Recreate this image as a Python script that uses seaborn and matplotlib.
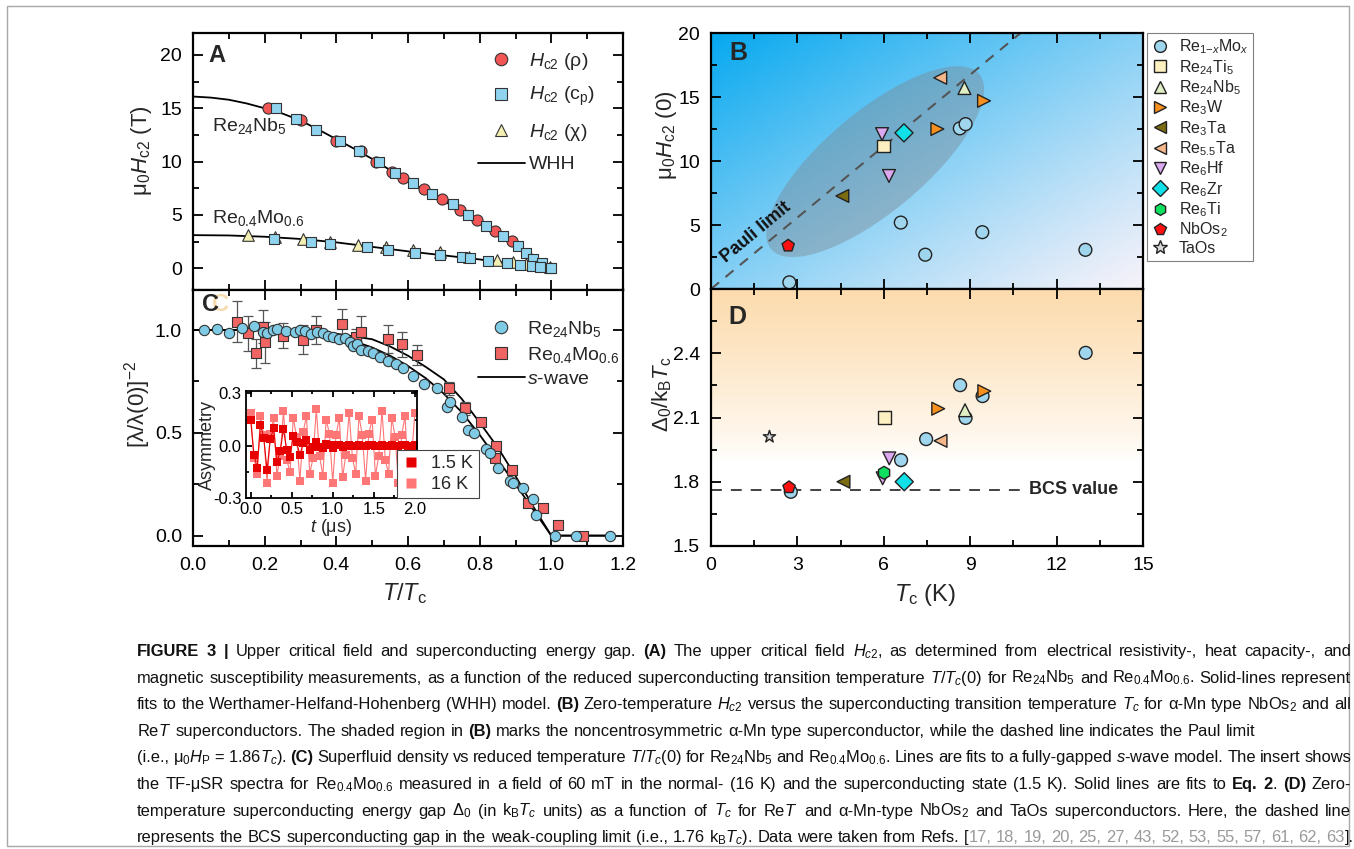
import matplotlib
matplotlib.use("Agg")
import numpy as np
import pandas as pd
import matplotlib.pyplot as plt
import seaborn as sns
from matplotlib.lines import Line2D
from matplotlib.patches import Ellipse, Rectangle
from matplotlib.ticker import MultipleLocator, FormatStrFormatter
from matplotlib.transforms import ScaledTranslation

# ---------------- panel A: upper critical field vs T/Tc ----------------
nb_rho_t = [0.21, 0.30, 0.40, 0.47, 0.51, 0.555, 0.587, 0.645, 0.694, 0.745, 0.793, 0.843, 0.889]
nb_rho_h = [15.0, 13.9, 11.95, 11.0, 10.0, 9.05, 8.5, 7.4, 6.5, 5.5, 4.5, 3.5, 2.55]
nb_cp_t = [0.231, 0.287, 0.343, 0.41, 0.463, 0.52, 0.564, 0.615, 0.667, 0.725, 0.768,
           0.818, 0.865, 0.908, 0.929, 0.95, 0.973, 0.996]
nb_cp_h = [15.0, 13.95, 12.95, 11.95, 10.95, 10.0, 8.97, 8.03, 7.0, 6.03, 5.03,
           3.97, 3.05, 2.06, 1.46, 0.9, 0.5, 0.0]
mo_chi_t = [0.154, 0.229, 0.306, 0.382, 0.461, 0.539, 0.615, 0.689, 0.77, 0.847, 0.894, 0.93, 0.995]
mo_chi_h = [3.1, 2.95, 2.72, 2.5, 2.22, 1.95, 1.7, 1.5, 1.05, 0.74, 0.55, 0.35, 0.15]
mo_cp_t = [0.227, 0.329, 0.382, 0.486, 0.545, 0.62, 0.689, 0.75, 0.773, 0.824, 0.875,
           0.913, 0.945, 0.968, 0.998]
mo_cp_h = [2.75, 2.5, 2.28, 1.97, 1.72, 1.47, 1.28, 1.03, 0.94, 0.72, 0.53, 0.31, 0.25, 0.1, 0.0]
whh_nb_t = [0.0, 0.05, 0.1, 0.15, 0.2, 0.25, 0.3, 0.35, 0.4, 0.45, 0.5, 0.55, 0.6, 0.65,
            0.7, 0.75, 0.8, 0.85, 0.9, 0.95, 1.0]
whh_nb_h = [16.1, 16.0, 15.8, 15.45, 15.0, 14.5, 13.85, 13.0, 12.1, 11.2, 10.25, 9.2, 8.2,
            7.25, 6.3, 5.35, 4.35, 3.35, 2.3, 1.2, 0.0]
whh_mo_t = [0.0, 0.1, 0.2, 0.3, 0.4, 0.5, 0.6, 0.7, 0.8, 0.9, 1.0]
whh_mo_h = [3.1, 3.07, 2.95, 2.74, 2.42, 2.0, 1.58, 1.2, 0.82, 0.41, 0.0]

# ---------------- panel C: superfluid density ----------------
sf_nb_t = [0.031, 0.066, 0.10, 0.136, 0.17, 0.194, 0.207, 0.222, 0.235, 0.26, 0.285, 0.299,
           0.313, 0.328, 0.345, 0.364, 0.378, 0.392, 0.408, 0.424, 0.438, 0.447, 0.457, 0.47,
           0.489, 0.503, 0.522, 0.545, 0.567, 0.587, 0.613, 0.645, 0.682, 0.708, 0.716, 0.75,
           0.768, 0.784, 0.818, 0.828, 0.852, 0.885, 0.892, 0.922, 0.95, 0.957, 1.01, 1.07, 1.165]
sf_nb_y = [1.0, 1.005, 0.985, 1.008, 1.018, 0.99, 0.985, 1.0, 1.003, 0.997, 0.99, 1.0,
           0.995, 0.98, 0.99, 0.987, 0.972, 0.966, 0.955, 0.96, 0.94, 0.92, 0.93, 0.905,
           0.9, 0.886, 0.867, 0.849, 0.833, 0.814, 0.776, 0.735, 0.717, 0.627, 0.651, 0.578,
           0.512, 0.5, 0.42, 0.403, 0.328, 0.264, 0.255, 0.233, 0.176, 0.1, 0.0, 0.0, 0.0]
sf_mo_t = [0.122, 0.154, 0.176, 0.194, 0.201, 0.252, 0.306, 0.343, 0.415, 0.455, 0.47, 0.545,
           0.582, 0.626, 0.715, 0.759, 0.804, 0.846, 0.843, 0.889, 0.936, 0.976, 1.018, 1.089]
sf_mo_y = [1.04, 0.984, 0.886, 1.016, 0.94, 0.973, 0.952, 1.0, 1.028, 0.967, 0.991, 0.956,
           0.93, 0.878, 0.716, 0.619, 0.551, 0.436, 0.376, 0.319, 0.157, 0.136, 0.054, 0.0]
sf_mo_err = [0.10, 0.085, 0.07, 0.08, 0.1, 0.06, 0.07, 0.07, 0.075, 0.04, 0.075, 0.07,
             0.06, 0.05, 0.03, 0.03, 0.02, 0.02, 0.02, 0.02, 0.02, 0.02, 0.01, 0.01]
swave_nb_t = [0.0, 0.1, 0.2, 0.3, 0.4, 0.45, 0.5, 0.55, 0.6, 0.65, 0.7, 0.75, 0.8, 0.85,
              0.9, 0.95, 1.0, 1.17]
swave_nb_y = [1.0, 1.0, 0.998, 0.99, 0.967, 0.945, 0.915, 0.875, 0.825, 0.765, 0.69, 0.6,
              0.49, 0.37, 0.25, 0.125, 0.0, 0.0]
swave_mo_t = [0.0, 0.1, 0.2, 0.3, 0.4, 0.5, 0.55, 0.6, 0.65, 0.7, 0.75, 0.8, 0.85, 0.9,
              0.95, 1.0, 1.17]
swave_mo_y = [1.0, 1.0, 1.0, 0.995, 0.982, 0.955, 0.92, 0.875, 0.82, 0.76, 0.665, 0.55,
              0.43, 0.29, 0.14, 0.0, 0.0]

# inset: TF-muSR asymmetry
musr_t = [0.00, 0.04, 0.08, 0.12, 0.16, 0.20, 0.24, 0.28, 0.32, 0.36, 0.40, 0.44, 0.48,
          0.52, 0.56, 0.60, 0.64, 0.68, 0.72, 0.76, 0.80, 0.84, 0.88, 0.92, 0.96, 1.00,
          1.04, 1.08, 1.12, 1.16, 1.20, 1.24, 1.28, 1.32, 1.36, 1.40, 1.44, 1.48, 1.52,
          1.56, 1.60, 1.64, 1.68, 1.72, 1.76, 1.80, 1.84, 1.88, 1.92, 1.96, 2.00]
asym_16k = [0.19, -0.07, -0.16, 0.17, 0.06, -0.21, 0.07, 0.16, -0.17, -0.06,
            0.20, -0.08, -0.15, 0.16, 0.05, -0.20, 0.08, 0.17, -0.16, -0.07,
            0.21, -0.06, -0.17, 0.15, 0.07, -0.21, 0.06, 0.16, -0.18, -0.05,
            0.19, -0.07, -0.16, 0.17, 0.06, -0.20, 0.07, 0.15, -0.17, -0.06,
            0.20, -0.08, -0.16, 0.16, 0.05, -0.21, 0.06, 0.17, -0.16, -0.07, 0.19]
asym_15k = [0.15, -0.05, -0.125, 0.12, 0.045, -0.14, 0.04, 0.10, -0.095, -0.03,
            0.095, -0.026, -0.062, 0.055, 0.02, -0.052, 0.014, 0.031, -0.026, -0.008,
            0.022, -0.005, -0.014, 0.012, 0.004, -0.011, 0.003, 0.007, -0.006, -0.002,
            0.006, -0.002, -0.004, 0.004, 0.001, -0.004, 0.002, 0.004, -0.003, -0.001,
            0.003, -0.002, -0.003, 0.003, 0.001, -0.003, 0.002, 0.003, -0.002, -0.001, 0.002]

# ---------------- panels B and D ----------------
b_compound = ["ReMo"] * 7 + ["Re24Ti5", "Re24Nb5", "Re3W", "Re3W", "Re3Ta", "Re5.5Ta",
                             "Re6Hf", "Re6Hf", "Re6Zr", "NbOs2"]
b_tc = [2.72, 6.59, 7.44, 8.64, 8.84, 9.42, 13.0, 6.0, 8.8, 7.86, 9.48, 4.56, 7.96,
        5.94, 6.18, 6.7, 2.68]
b_hc2 = [0.52, 5.19, 2.68, 12.55, 12.88, 4.44, 3.06, 11.17, 15.7, 12.5, 14.7, 7.27, 16.5,
         12.1, 8.83, 12.2, 3.38]
d_compound = ["ReMo"] * 7 + ["Re24Ti5", "Re24Nb5", "Re3W", "Re3W", "Re3Ta", "Re5.5Ta",
                             "Re6Hf", "Re6Hf", "Re6Zr", "Re6Ti", "NbOs2", "TaOs"]
d_tc = [2.77, 6.6, 7.47, 8.65, 8.84, 9.43, 13.01, 6.02, 8.82, 7.89, 9.49, 4.6, 7.97,
        6.19, 5.96, 6.71, 6.01, 2.71, 2.03]
d_gap = [1.753, 1.901, 1.999, 2.251, 2.098, 2.2, 2.402, 2.1, 2.134, 2.141, 2.223, 1.8,
         1.991, 1.909, 1.816, 1.8, 1.842, 1.774, 2.01]
pauli_tc = [0.0, 10.75]
pauli_h = [0.0, 20.0]
bcs_tc = [0.0, 10.9]
bcs_gap = [1.76, 1.76]
d_yticks = [1.5, 1.8, 2.1, 2.4]

order = ["ReMo", "Re24Ti5", "Re24Nb5", "Re3W", "Re3Ta", "Re5.5Ta", "Re6Hf", "Re6Zr",
         "Re6Ti", "NbOs2", "TaOs"]
names = {"ReMo": "Re$_{1\\mathrm{-}x}$Mo$_x$", "Re24Ti5": "Re$_{24}$Ti$_5$",
         "Re24Nb5": "Re$_{24}$Nb$_5$", "Re3W": "Re$_3$W", "Re3Ta": "Re$_3$Ta",
         "Re5.5Ta": "Re$_{5.5}$Ta", "Re6Hf": "Re$_6$Hf", "Re6Zr": "Re$_6$Zr",
         "Re6Ti": "Re$_6$Ti", "NbOs2": "NbOs$_2$", "TaOs": "TaOs"}
colors = {"ReMo": "#9fd6ee", "Re24Ti5": "#fcefc0", "Re24Nb5": "#e0eec4", "Re3W": "#f7901e",
          "Re3Ta": "#7b6b12", "Re5.5Ta": "#f5b68a", "Re6Hf": "#dca8f0", "Re6Zr": "#10e0e8",
          "Re6Ti": "#10e060", "NbOs2": "#ff1010", "TaOs": "#d8d8d8"}
markers = {"ReMo": "o", "Re24Ti5": "s", "Re24Nb5": "^", "Re3W": ">", "Re3Ta": "<",
           "Re5.5Ta": "<", "Re6Hf": "v", "Re6Zr": "D", "Re6Ti": "h", "NbOs2": "p", "TaOs": "*"}

sns.set_style("ticks")
plt.rcParams["font.family"] = ["Liberation Sans", "DejaVu Sans"]
plt.rcParams["mathtext.fontset"] = "custom"
plt.rcParams["mathtext.rm"] = "Liberation Sans"
plt.rcParams["mathtext.it"] = "Liberation Sans:italic"
plt.rcParams["mathtext.bf"] = "Liberation Sans:bold"
plt.rcParams["axes.unicode_minus"] = False

W, H = 1354, 849
fig = plt.figure(figsize=(W / 100, H / 100), dpi=100)


def px_rect(l, t, r, b):
    return [l / W, 1 - b / H, (r - l) / W, (b - t) / H]


def style_axes(ax, xmaj, xmin, ymaj, ymin, size=14, lw=1.6):
    ax.xaxis.set_major_locator(MultipleLocator(xmaj))
    ax.xaxis.set_minor_locator(MultipleLocator(xmin))
    ax.yaxis.set_major_locator(MultipleLocator(ymaj))
    ax.yaxis.set_minor_locator(MultipleLocator(ymin))
    ax.tick_params(which="both", direction="in", top=True, right=True, width=1.3,
                   labelsize=size, pad=8, colors="black")
    ax.tick_params(which="major", length=7)
    ax.tick_params(which="minor", length=4)
    for s in ax.spines.values():
        s.set_linewidth(lw)
        s.set_color("black")


ax_a = fig.add_axes(px_rect(193, 33, 623, 289.5))
ax_c = fig.add_axes(px_rect(193, 289.5, 623, 545.5))
ax_b = fig.add_axes(px_rect(711, 33, 1143, 289))
ax_d = fig.add_axes(px_rect(711, 289, 1143, 546))

# ---- A ----
sns.lineplot(x=whh_nb_t, y=whh_nb_h, ax=ax_a, color="black", lw=1.3, sort=False, estimator=None)
sns.lineplot(x=whh_mo_t, y=whh_mo_h, ax=ax_a, color="black", lw=1.3, sort=False, estimator=None)
sns.scatterplot(x=mo_chi_t, y=mo_chi_h, ax=ax_a, marker="^", s=70, color="#f4efb2",
                edgecolor="#333333", linewidth=0.8, zorder=3)
sns.scatterplot(x=nb_rho_t, y=nb_rho_h, ax=ax_a, marker="o", s=64, color="#f25555",
                edgecolor="#333333", linewidth=0.8, zorder=3)
sns.scatterplot(x=nb_cp_t, y=nb_cp_h, ax=ax_a, marker="s", s=58, color="#8fd3ef",
                edgecolor="#333333", linewidth=0.8, zorder=4)
sns.scatterplot(x=mo_cp_t, y=mo_cp_h, ax=ax_a, marker="s", s=58, color="#8fd3ef",
                edgecolor="#333333", linewidth=0.8, zorder=4)
ax_a.set_xlim(0, 1.2)
ax_a.set_ylim(-2, 22.06)
style_axes(ax_a, 0.2, 0.1, 5, 2.5)
ax_a.yaxis.set_major_formatter(FormatStrFormatter("%d"))
ax_a.tick_params(labelbottom=False)
ax_a.set_ylabel("μ$_0$$H_\\mathrm{c2}$ (T)", fontsize=16)
ax_a.yaxis.set_label_coords(-0.09, 0.54)
ax_a.text(0.035, 0.914, "A", transform=ax_a.transAxes, fontsize=17, fontweight="bold", va="center")
ax_a.text(0.052, 13.3, "Re$_{24}$Nb$_5$", fontsize=14, va="center")
ax_a.text(0.052, 4.7, "Re$_{0.4}$Mo$_{0.6}$", fontsize=14, va="center")
a_handles = [
    Line2D([], [], ls="", marker="o", ms=9, mfc="#f25555", mec="#333333", mew=0.8),
    Line2D([], [], ls="", marker="s", ms=8.5, mfc="#8fd3ef", mec="#333333", mew=0.8),
    Line2D([], [], ls="", marker="^", ms=9, mfc="#f4efb2", mec="#333333", mew=0.8),
    Line2D([], [], color="black", lw=1.3),
]
a_labels = ["$H_\\mathrm{c2}$ (ρ)", "$H_\\mathrm{c2}$ (c$_\\mathrm{p}$)", "$H_\\mathrm{c2}$ (χ)", "WHH"]
ax_a.legend(a_handles, a_labels, loc="upper left", bbox_to_anchor=(0.663, 0.93), frameon=False,
            fontsize=14, handlelength=2.4, handletextpad=0.2, labelspacing=0.68,
            borderpad=0, borderaxespad=0)

# ---- C ----
sns.lineplot(x=swave_nb_t, y=swave_nb_y, ax=ax_c, color="black", lw=1.3, sort=False, estimator=None)
sns.lineplot(x=swave_mo_t, y=swave_mo_y, ax=ax_c, color="black", lw=1.3, sort=False, estimator=None)
ax_c.errorbar(sf_mo_t, sf_mo_y, yerr=sf_mo_err, fmt="none", ecolor="#555555",
              elinewidth=0.9, capsize=3.5, capthick=0.9, zorder=2)
sns.scatterplot(x=sf_mo_t, y=sf_mo_y, ax=ax_c, marker="s", s=48, color="#f06464",
                edgecolor="#333333", linewidth=0.8, zorder=3)
sns.scatterplot(x=sf_nb_t, y=sf_nb_y, ax=ax_c, marker="o", s=55, color="#7fcbe6",
                edgecolor="#333333", linewidth=0.8, zorder=4)
ax_c.set_xlim(0, 1.2)
ax_c.set_ylim(-0.048, 1.197)
style_axes(ax_c, 0.2, 0.1, 0.5, 0.25)
ax_c.yaxis.set_major_formatter(FormatStrFormatter("%.1f"))
ax_c.xaxis.set_major_formatter(FormatStrFormatter("%.1f"))
ax_c.set_ylabel("[λ/λ(0)]$^{-2}$", fontsize=16)
ax_c.yaxis.set_label_coords(-0.094, 0.55)
ax_c.set_xlabel("$T/T_\\mathrm{c}$", fontsize=17)
ax_c.xaxis.set_label_coords(0.493, -0.14)
ax_c.text(0.045, 0.943, "C", transform=ax_c.transAxes, fontsize=17, fontweight="bold",
          va="center", color="#f6dcae", zorder=1)
ax_c.text(0.02, 0.943, "C", transform=ax_c.transAxes, fontsize=17, fontweight="bold", va="center")
c_handles = [
    Line2D([], [], ls="", marker="o", ms=9, mfc="#7fcbe6", mec="#333333", mew=0.8),
    Line2D([], [], ls="", marker="s", ms=8.5, mfc="#f06464", mec="#333333", mew=0.8),
    Line2D([], [], color="black", lw=1.3),
]
c_labels = ["Re$_{24}$Nb$_5$", "Re$_{0.4}$Mo$_{0.6}$", "$s$-wave"]
ax_c.legend(c_handles, c_labels, loc="upper left", bbox_to_anchor=(0.663, 0.885), frameon=False,
            fontsize=14, handlelength=2.4, handletextpad=0.1, labelspacing=0.3,
            borderpad=0, borderaxespad=0)

# inset
ax_in = fig.add_axes(px_rect(245.7, 391, 417.3, 498.3))
sns.lineplot(x=musr_t, y=asym_16k, ax=ax_in, color="#ff7676", lw=0.8, marker="s",
             markersize=5.5, markeredgewidth=0, sort=False, estimator=None)
sns.lineplot(x=musr_t, y=asym_15k, ax=ax_in, color="#e60000", lw=0.8, marker="s",
             markersize=5.5, markeredgewidth=0, sort=False, estimator=None)
ax_in.set_xlim(-0.06, 2.03)
ax_in.set_ylim(-0.3, 0.313)
style_axes(ax_in, 0.5, 0.25, 0.3, 0.15, size=12, lw=1.3)
ax_in.tick_params(which="major", length=4, pad=3)
ax_in.tick_params(which="minor", length=2)
ax_in.xaxis.set_major_formatter(FormatStrFormatter("%.1f"))
ax_in.yaxis.set_major_formatter(FormatStrFormatter("%.1f"))
ax_in.set_xlabel("$t$ (μs)", fontsize=13, labelpad=0)
ax_in.set_ylabel("Asymmetry", fontsize=13, labelpad=-2)
in_handles = [Line2D([], [], ls="", marker="s", ms=7, mfc="#e60000", mec="none"),
              Line2D([], [], ls="", marker="s", ms=7, mfc="#ff7676", mec="none")]
leg_in = fig.legend(in_handles, ["1.5 K", "16 K"], loc="upper left",
                    bbox_to_anchor=(397 / W, 1 - 450 / H), frameon=True, fancybox=False,
                    edgecolor="#444444", framealpha=1, fontsize=13, handlelength=1.0,
                    handletextpad=0.6, labelspacing=0.2, borderpad=0.3, borderaxespad=0)
leg_in.get_frame().set_linewidth(0.8)

# ---- B ----
grad_u, grad_v = np.meshgrid(np.linspace(0, 1, 300), np.linspace(1, 0, 300))
f_b = np.clip(((1 - grad_u) + grad_v) / 2, 0, 1) ** 1.1
blue = np.array([0.02, 0.66, 0.94])
pale = np.array([0.97, 0.95, 0.98])
img_b = pale[None, None, :] * (1 - f_b[..., None]) + blue[None, None, :] * f_b[..., None]
ax_b.imshow(img_b, extent=[0, 1, 0, 1], transform=ax_b.transAxes, aspect="auto",
            zorder=0, interpolation="bicubic")
ell = Ellipse((0, 0), 2.72, 1.0, angle=40, facecolor="#7c8690", alpha=0.42, edgecolor="none",
              transform=fig.dpi_scale_trans + ScaledTranslation(5.7, 9.95, ax_b.transData),
              zorder=1)
ax_b.add_patch(ell)
sns.lineplot(x=pauli_tc, y=pauli_h, ax=ax_b, color="#555555", lw=1.5, dashes=(5, 4),
             sort=False, estimator=None, zorder=2)
b_df = pd.DataFrame({"compound": b_compound, "Tc": b_tc, "Hc2": b_hc2})
sns.scatterplot(data=b_df, x="Tc", y="Hc2", hue="compound", style="compound", palette=colors,
                markers=markers, s=85, edgecolor="#222222", linewidth=1.0, legend=False,
                ax=ax_b, zorder=3)
ax_b.text(1.55, 4.4, "Pauli limit", rotation=39.6, rotation_mode="anchor", fontsize=13,
          fontweight="bold", ha="center", va="center", color="#111111")
ax_b.set_xlim(0, 15)
ax_b.set_ylim(0, 20)
style_axes(ax_b, 3, 1.5, 5, 2.5)
ax_b.yaxis.set_major_formatter(FormatStrFormatter("%d"))
ax_b.tick_params(labelbottom=False)
ax_b.set_xlabel("")
ax_b.set_ylabel("μ$_0$$H_\\mathrm{c2}$ (0)", fontsize=16)
ax_b.yaxis.set_label_coords(-0.075, 0.6)
ax_b.text(0.042, 0.92, "B", transform=ax_b.transAxes, fontsize=18, fontweight="bold", va="center")

# ---- D ----
f_d = np.clip((grad_v - 0.33) / 0.67, 0, 1) ** 0.8
beige = np.array([0.99, 0.86, 0.68])
white = np.array([1.0, 1.0, 1.0])
img_d = white[None, None, :] * (1 - f_d[..., None]) + beige[None, None, :] * f_d[..., None]
ax_d.imshow(img_d, extent=[0, 1, 0, 1], transform=ax_d.transAxes, aspect="auto",
            zorder=0, interpolation="bicubic")
sns.lineplot(x=bcs_tc, y=bcs_gap, ax=ax_d, color="#333333", lw=1.3, dashes=(6, 5),
             sort=False, estimator=None, zorder=2)
d_df = pd.DataFrame({"compound": d_compound, "Tc": d_tc, "gap": d_gap})
sns.scatterplot(data=d_df, x="Tc", y="gap", hue="compound", style="compound", palette=colors,
                markers=markers, s=85, edgecolor="#222222", linewidth=1.0, legend=False,
                ax=ax_d, zorder=3)
ax_d.text(11.05, 1.762, "BCS value", fontsize=13, fontweight="bold", va="center", ha="left")
ax_d.set_xlim(0, 15)
ax_d.set_ylim(1.5, 2.7)
style_axes(ax_d, 3, 1.5, 0.3, 0.15)
ax_d.set_yticks(d_yticks)
ax_d.yaxis.set_major_formatter(FormatStrFormatter("%.1f"))
ax_d.xaxis.set_major_formatter(FormatStrFormatter("%d"))
ax_d.set_xlabel("$T_\\mathrm{c}$ (K)", fontsize=17)
ax_d.xaxis.set_label_coords(0.495, -0.14)
ax_d.set_ylabel("Δ$_0$/k$_\\mathrm{B}$$T_\\mathrm{c}$", fontsize=16)
ax_d.yaxis.set_label_coords(-0.086, 0.59)
ax_d.text(0.04, 0.892, "D", transform=ax_d.transAxes, fontsize=18, fontweight="bold", va="center")

b_handles = [Line2D([], [], ls="", marker=markers[k], ms=8.5 if markers[k] != "*" else 10,
                    mfc=colors[k], mec="#222222", mew=1.0) for k in order]
leg_b = fig.legend(b_handles, [names[k] for k in order], loc="upper left",
                   bbox_to_anchor=(1147 / W, 1 - 33 / H), frameon=True, fancybox=False,
                   edgecolor="#808080", framealpha=1, fontsize=11.5, handlelength=1.0,
                   handletextpad=0.7, labelspacing=0.1, borderpad=0.3, borderaxespad=0)
leg_b.get_frame().set_linewidth(0.8)

# ---- caption ----
cap_lines = [
    ([("FIGURE 3 |", "b"), (" Upper critical field and superconducting energy gap. ", "n"), ("(A)", "b"),
      (" The upper critical field $H_{c2}$, as determined from electrical resistivity-, heat capacity-, and", "n")], True),
    ([("magnetic susceptibility measurements, as a function of the reduced superconducting transition "
       "temperature $T/T_c(0)$ for Re$_{24}$Nb$_5$ and Re$_{0.4}$Mo$_{0.6}$. Solid-lines represent", "n")], True),
    ([("fits to the Werthamer-Helfand-Hohenberg (WHH) model. ", "n"), ("(B)", "b"),
      (" Zero-temperature $H_{c2}$ versus the superconducting transition temperature $T_c$ for α-Mn type NbOs$_2$ and all", "n")], True),
    ([("Re$T$ superconductors. The shaded region in ", "n"), ("(B)", "b"),
      (" marks the noncentrosymmetric α-Mn type superconductor, while the dashed line indicates the Paul limit", "n")], False),
    ([("(i.e., μ$_0H_\\mathrm{P}$ = 1.86$T_c$). ", "n"), ("(C)", "b"),
      (" Superfluid density vs reduced temperature $T/T_c$(0) for Re$_{24}$Nb$_5$ and Re$_{0.4}$Mo$_{0.6}$. "
       "Lines are fits to a fully-gapped $s$-wave model. The insert shows", "n")], True),
    ([("the TF-μSR spectra for Re$_{0.4}$Mo$_{0.6}$ measured in a field of 60 mT in the normal- (16 K) and the "
       "superconducting state (1.5 K). Solid lines are fits to ", "n"), ("Eq. 2", "b"), (". ", "n"),
      ("(D)", "b"), (" Zero-", "n")], True),
    ([("temperature superconducting energy gap Δ$_0$ (in k$_\\mathrm{B}T_c$ units) as a function of $T_c$ "
       "for Re$T$ and α-Mn-type NbOs$_2$ and TaOs superconductors. Here, the dashed line", "n")], True),
    ([("represents the BCS superconducting gap in the weak-coupling limit (i.e., 1.76 k$_\\mathrm{B}T_c$). "
       "Data were taken from Refs. [", "n"), ("17, 18, 19, 20, 25, 27, 43, 52, 53, 55, 57, 61, 62, 63", "g"),
      ("].", "n")], False),
]

renderer = fig.canvas.get_renderer()
cap_size = 11.9


def cap_text(s, style, size):
    return fig.text(0, 0, s, fontsize=size, fontweight="bold" if style == "b" else "normal",
                    color="#9a9a9a" if style == "g" else "#111111", va="baseline", ha="left")


x_left, x_right = 137, 1351
for li, (segs, justify) in enumerate(cap_lines):
    words = []
    new_word = True
    for text, st in segs:
        for i, part in enumerate(text.split(" ")):
            if i > 0:
                new_word = True
            if part == "":
                continue
            if new_word or not words:
                words.append([(part, st)])
            else:
                words[-1].append((part, st))
            new_word = False
    size = cap_size
    while True:
        p1, p2 = cap_text("a a", "n", size), cap_text("aa", "n", size)
        space_w = p1.get_window_extent(renderer).width - p2.get_window_extent(renderer).width
        p1.remove()
        p2.remove()
        objs = []
        total = 0.0
        for w in words:
            row = []
            for part, st in w:
                t = cap_text(part, st, size)
                wd = t.get_window_extent(renderer).width
                row.append((t, wd))
                total += wd
            objs.append(row)
        need = total + space_w * 0.75 * (len(objs) - 1)
        if need <= x_right - x_left or size < 9:
            break
        for row in objs:
            for t, wd in row:
                t.remove()
        size -= 0.1
    gap = (x_right - x_left - total) / (len(objs) - 1) if justify else space_w
    x = x_left
    y = 1 - (656 + li * 26.6) / H
    for row in objs:
        for t, wd in row:
            t.set_position((x / W, y))
            x += wd
        x += gap

fig.add_artist(Rectangle((7 / W, 3 / H), 1342 / W, 840 / H, transform=fig.transFigure,
                         fill=False, edgecolor="#a8a8a8", lw=1.0))

fig.savefig("out.png", dpi=100)
